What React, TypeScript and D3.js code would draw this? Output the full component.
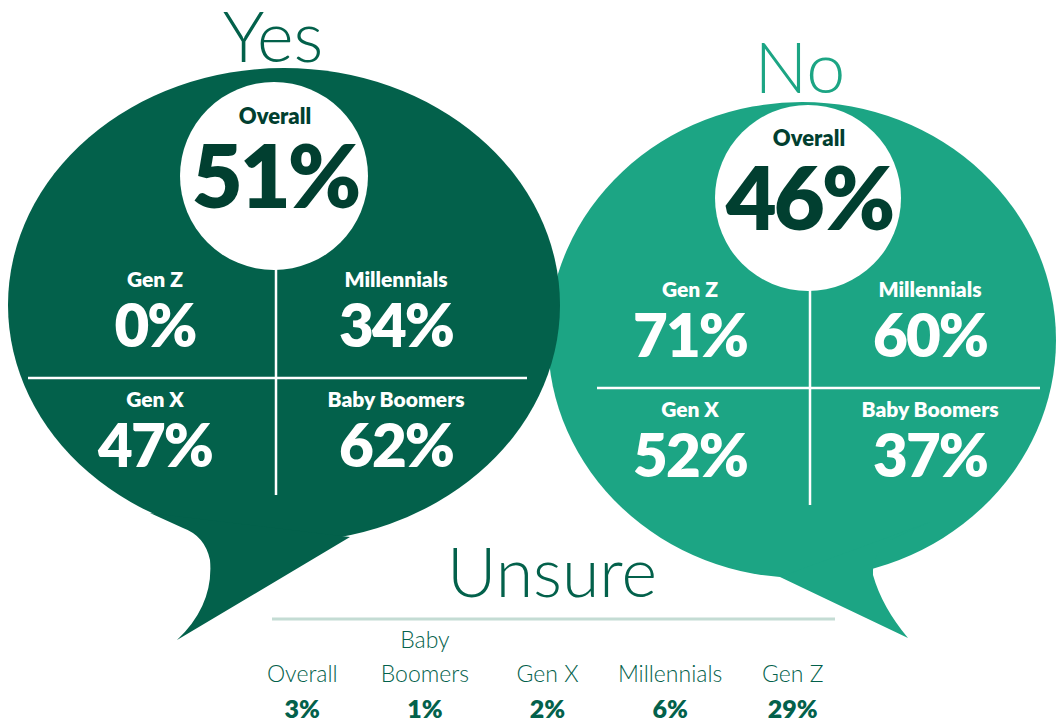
import { useEffect, useRef } from 'react';
import * as d3 from 'd3';

// Quadrant order: top-left, top-right, bottom-left, bottom-right
const groups = ['Gen Z', 'Millennials', 'Gen X', 'Baby Boomers'];
const yesValues = [0, 34, 47, 62];
const noValues = [71, 60, 52, 37];
const overallYes = 51;
const overallNo = 46;

const unsureLabels = ['Overall', 'Baby Boomers', 'Gen X', 'Millennials', 'Gen Z'];
const unsureValues = [3, 1, 2, 6, 29];

const DARK = '#03614B';
const TEAL = '#1CA584';
const INK = '#013F30';
const FONT = 'Lato, "Open Sans", sans-serif';

interface BubbleSpec {
  title: string;
  titleColor: string;
  titleX: number;
  titleY: number;
  fill: string;
  cx: number;
  cy: number;
  rx: number;
  ry: number;
  tail: [number, number][];
  circle: { cx: number; cy: number; r: number };
  overall: number;
  values: number[];
  vx: number;
  hy: number;
  hx: [number, number];
  vBottom: number;
  cols: [number, number];
  labelY: [number, number];
}

const App = () => {
  const svgRef = useRef<SVGSVGElement | null>(null);

  useEffect(() => {
    const width = 1060;
    const height = 721;
    const svg = d3.select(svgRef.current);
    svg.selectAll('*').remove();
    svg.attr('width', width).attr('height', height);

    const bubbles: BubbleSpec[] = [
      {
        title: 'No', titleColor: TEAL, titleX: 800, titleY: 93, fill: TEAL,
        cx: 802, cy: 340, rx: 254, ry: 238,
        tail: [[780, 577], [908, 638], [882, 607], [873, 575], [872, 553], [890, 540], [930, 522]],
        circle: { cx: 808, cy: 198, r: 93 },
        overall: overallNo, values: noValues,
        vx: 810, hy: 388, hx: [597, 1040], vBottom: 505,
        cols: [690, 930], labelY: [297, 417],
      },
      {
        title: 'Yes', titleColor: DARK, titleX: 273, titleY: 62, fill: DARK,
        cx: 284, cy: 305, rx: 276, ry: 237,
        tail: [[150, 513], [183, 528], [205, 536], [210, 560], [214, 605], [177, 640], [350, 537]],
        circle: { cx: 274, cy: 176, r: 94 },
        overall: overallYes, values: yesValues,
        vx: 276, hy: 378, hx: [28, 527], vBottom: 495,
        cols: [155, 396], labelY: [287, 407],
      },
    ];

    bubbles.forEach(b => {
      const g = svg.append('g');

      g.append('text')
        .attr('x', b.titleX)
        .attr('y', b.titleY)
        .attr('text-anchor', 'middle')
        .style('font-family', FONT)
        .style('font-weight', 300)
        .style('font-size', '70px')
        .style('fill', b.titleColor)
        .text(b.title);

      g.append('ellipse')
        .attr('cx', b.cx).attr('cy', b.cy)
        .attr('rx', b.rx).attr('ry', b.ry)
        .attr('fill', b.fill);

      // tail: straight edge, then two curved segments down to the tip
      const t = b.tail;
      const tailPath = b.title === 'Yes'
        ? `M${t[0]}L${t[1]}Q${t[2]} ${t[3]}Q${t[4]} ${t[5]}L${t[6]}Z`
        : `M${t[0]}L${t[1]}Q${t[2]} ${t[3]}Q${t[4]} ${t[5]}L${t[6]}Z`;
      g.append('path').attr('d', tailPath).attr('fill', b.fill);

      g.append('circle')
        .attr('cx', b.circle.cx).attr('cy', b.circle.cy).attr('r', b.circle.r)
        .attr('fill', 'white');

      g.append('text')
        .attr('x', b.circle.cx + 1)
        .attr('y', b.circle.cy - 52)
        .attr('text-anchor', 'middle')
        .style('font-family', FONT)
        .style('font-weight', 800)
        .style('font-size', '22px')
        .style('fill', INK)
        .text('Overall');

      g.append('text')
        .attr('x', b.circle.cx + 1)
        .attr('y', b.circle.cy + 32)
        .attr('text-anchor', 'middle')
        .style('font-family', FONT)
        .style('font-weight', 800)
        .style('font-size', '88px')
        .style('letter-spacing', '-3px')
        .style('fill', INK)
        .text(`${b.overall}%`);

      // dividing lines
      g.append('line')
        .attr('x1', b.vx).attr('x2', b.vx)
        .attr('y1', b.circle.cy + b.circle.r - 2).attr('y2', b.vBottom)
        .attr('stroke', 'white').attr('stroke-width', 2.5);
      g.append('line')
        .attr('x1', b.hx[0]).attr('x2', b.hx[1])
        .attr('y1', b.hy).attr('y2', b.hy)
        .attr('stroke', 'white').attr('stroke-width', 2.5);

      groups.forEach((grp, i) => {
        const x = b.cols[i % 2];
        const y = b.labelY[Math.floor(i / 2)];
        g.append('text')
          .attr('x', x).attr('y', y)
          .attr('text-anchor', 'middle')
          .style('font-family', FONT)
          .style('font-weight', 800)
          .style('font-size', '21px')
          .style('fill', 'white')
          .text(grp);
        g.append('text')
          .attr('x', x).attr('y', y + 60)
          .attr('text-anchor', 'middle')
          .style('font-family', FONT)
          .style('font-weight', 800)
          .style('font-size', '60px')
          .style('letter-spacing', '-2px')
          .style('fill', 'white')
          .text(`${b.values[i]}%`);
      });
    });

    // Unsure section
    const unsure = svg.append('g');
    unsure.append('text')
      .attr('x', 552).attr('y', 597)
      .attr('text-anchor', 'middle')
      .style('font-family', FONT)
      .style('font-weight', 300)
      .style('font-size', '68px')
      .style('fill', DARK)
      .text('Unsure');

    unsure.append('line')
      .attr('x1', 272).attr('x2', 835)
      .attr('y1', 619).attr('y2', 619)
      .attr('stroke', '#C4DCD4').attr('stroke-width', 3);

    const x = d3.scaleBand<string>()
      .domain(unsureLabels)
      .range([241, 854]);

    unsureLabels.forEach((label, i) => {
      const cx = (x(label) ?? 0) + x.bandwidth() / 2;
      const words = label === 'Baby Boomers' ? ['Baby', 'Boomers'] : [label];
      words.forEach((w, j) => {
        unsure.append('text')
          .attr('x', cx)
          .attr('y', 682 - (words.length - 1 - j) * 34)
          .attr('text-anchor', 'middle')
          .style('font-family', FONT)
          .style('font-weight', 300)
          .style('font-size', '23px')
          .style('fill', DARK)
          .text(w);
      });
      unsure.append('text')
        .attr('x', cx)
        .attr('y', 718)
        .attr('text-anchor', 'middle')
        .style('font-family', FONT)
        .style('font-weight', 800)
        .style('font-size', '25px')
        .style('fill', DARK)
        .text(`${unsureValues[i]}%`);
    });
  }, []);

  return (
    <svg
      ref={svgRef}
      style={{ position: 'absolute', left: 0, top: 0, display: 'block' }}
    ></svg>
  );
};

export default App;
